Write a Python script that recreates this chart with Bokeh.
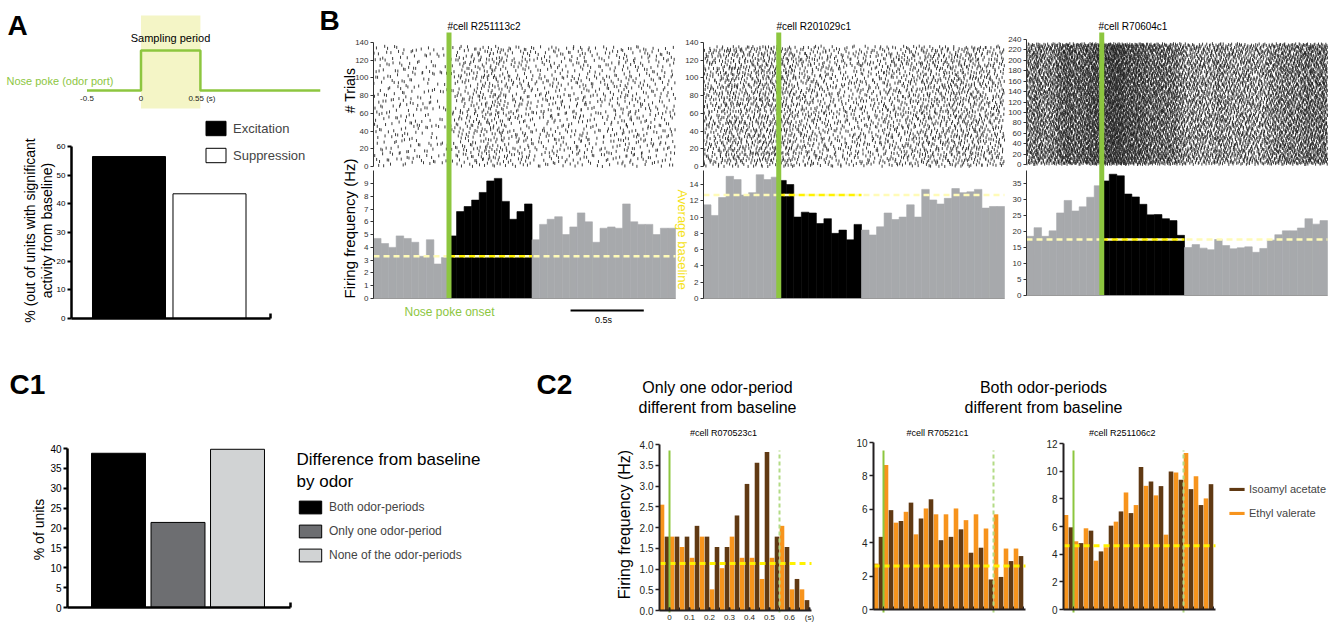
import numpy as np
from bokeh.plotting import figure
from bokeh.models import (Range1d, FixedTicker, LinearAxis, Legend, LegendItem,
                          PrintfTickFormatter)
from bokeh.core.properties import value
from bokeh.embed import file_html
from bokeh.resources import INLINE

FONT = "Liberation Sans"
GREEN = "#8DC63F"
LIGHT_GREEN = "#B3DB86"
YELLOW = "#FFF200"
PALE_YELLOW = "#FFFBB8"
GREY_BAR = "#A7A9AC"
ORANGE = "#F7941D"
BROWN = "#603913"
AXIS = "#231F20"

# ---------------------------------------------------------------- data
# Panel A
a_categories = ["Excitation", "Suppression"]
a_percent = [56.5, 43.5]
a_colors = ["black", "white"]
a_yticks = [0, 10, 20, 30, 40, 50, 60]
sampling_period = [0.0, 0.55]
nose_poke_t = [-0.5, 0.0, 0.55, 1.66]
nose_poke_state = [0, 1, 0, 0]
a_time_ticks = [-0.5, 0.0]
a_time_labels = ["-0.5", "0"]

# Panel B (PSTH, 50 ms bins from -0.5 s)
b_bin = 0.05
b_t0 = -0.5
b_cells = ["#cell R251113c2", "#cell R201029c1", "#cell R70604c1"]
b1_rate = [4.7, 4.3, 4.0, 4.9, 4.7, 4.4, 3.3, 4.6, 2.7, 3.2,
           4.9, 6.8, 7.2, 7.7, 8.3, 9.2, 9.4, 7.6, 6.2, 6.8, 7.4,
           4.6, 5.8, 6.2, 6.4, 5.0, 5.6, 6.7, 6.0, 4.4, 5.5, 5.6, 5.5, 7.4, 6.0,
           5.8, 5.8, 5.0, 5.5, 5.5]
b2_rate = [11.5, 10.2, 12.4, 15.0, 14.6, 12.7, 13.0, 15.2, 14.6, 14.9,
           14.5, 14.0, 10.0, 10.6, 10.5, 9.2, 9.8, 8.0, 8.4, 7.2, 9.1,
           8.4, 7.8, 8.8, 10.5, 9.7, 10.0, 11.5, 10.0, 13.4, 12.1, 11.6, 12.3, 13.5,
           13.0, 13.1, 13.4, 11.1, 11.3, 11.3]
b3_rate = [18.5, 21.2, 18.5, 20.2, 25.8, 29.7, 26.4, 27.7, 30.7, 34.3,
           35.8, 37.9, 37.4, 31.7, 30.8, 28.5, 25.2, 25.3, 24.0, 23.4, 18.8,
           15.0, 15.9, 14.8, 14.3, 17.5, 15.6, 14.6, 14.9, 15.2, 13.5, 14.7, 17.3,
           19.0, 20.2, 20.2, 21.1, 24.0, 22.3, 23.4]
b_rates = [b1_rate, b2_rate, b3_rate]
b_baseline = [3.3, 12.7, 17.5]
b_trials = [136, 136, 232]
b_trial_ticks = [list(range(0, 141, 20)), list(range(0, 141, 20)), list(range(0, 241, 20))]
b_rate_ticks = [list(range(0, 10)), list(range(0, 15, 2)), list(range(0, 36, 5))]
b_scalebar = [0.805, 1.29]

# Panel C1
c1_categories = ["Both odor-periods", "Only one odor-period", "None of the odor-periods"]
c1_percent = [38.8, 21.4, 39.8]
c1_colors = ["#000000", "#6D6E71", "#D1D3D4"]
c1_yticks = list(range(0, 41, 5))

# Panel C2 (50 ms bins from -0.05 s)
c2_bin = 0.05
c2_t0 = -0.05
c2_cells = ["#cell R070523c1", "#cell R70521c1", "#cell  R251106c2"]
c2_series = ["Isoamyl acetate", "Ethyl valerate"]
c2a_isoamyl = [1.78, 1.78, 1.78, 2.04, 1.78, 1.53, 1.53, 2.29, 3.05, 3.56, 3.82, 1.78, 1.53, 0.76, 0.25]
c2a_ethyl = [2.55, 1.78, 1.53, 1.27, 1.78, 0.51, 1.02, 1.78, 1.27, 1.27, 0.76, 1.27, 2.04, 0.51, 0.51]
c2b_isoamyl = [4.35, 5.95, 5.3, 6.4, 5.45, 6.6, 4.15, 4.35, 4.8, 3.4, 3.7, 1.8, 1.95, 2.9, 3.2]
c2b_ethyl = [2.75, 8.65, 5.2, 5.85, 4.5, 6.05, 5.7, 5.7, 6.05, 5.35, 5.7, 4.85, 5.7, 3.65, 3.65]
c2c_isoamyl = [5.94, 4.8, 5.7, 4.2, 6.06, 7.09, 6.97, 10.3, 9.25, 8.92, 9.98, 9.38, 8.7, 7.55, 9.06]
c2c_ethyl = [6.83, 4.93, 5.87, 3.53, 4.5, 6.35, 8.46, 7.55, 8.94, 8.25, 5.41, 9.9, 11.32, 9.64, 8.03]
c2_isoamyl = [c2a_isoamyl, c2b_isoamyl, c2c_isoamyl]
c2_ethyl = [c2a_ethyl, c2b_ethyl, c2c_ethyl]
c2_baseline = [1.13, 2.6, 4.6]
c2_yticks = [[0, 0.5, 1.0, 1.5, 2.0, 2.5, 3.0, 3.5, 4.0], list(range(0, 11, 2)), list(range(0, 13, 2))]
c2_xtick_values = [0, 0.1, 0.2, 0.3, 0.4, 0.5, 0.6, 0.7]
c2_xtick_labels = ["0", "0.1", "0.2", "0.3", "0.4", "0.5", "0.6", "(s)"]

# ---------------------------------------------------------------- canvas & scales
W, H = 1336, 623
XR, YR = {}, {}


def xmap(name, d0, d1, p0, p1):
    s = (d1 - d0) / (p1 - p0)
    XR[name] = Range1d(d0 - s * p0, d1 + s * (W - p1))
    return lambda px: d0 + s * (px - p0)


def ymap(name, d0, d1, py0, py1):
    s = (d1 - d0) / (py0 - py1)
    YR[name] = Range1d(d0 - s * (H - py0), d1 + s * py1)
    return lambda py: d0 + s * (py0 - py)


ax_ta = xmap("ta", 0.0, 1.0, 140.5, 248.5)
ay_sa = ymap("sa", 0.0, 1.0, 90.0, 50.0)
ax_ab = xmap("ab", 1.0, 2.0, 128.5, 209.0)
ay_ab = ymap("ab", 0.0, 60.0, 318.0, 146.0)
b_left = [373, 703, 1026]
b_right = [675, 1004, 1327]
b_raster_px = [(166, 42), (166, 42), (164, 39)]
b_psth_px = [(298, 183, 9), (298, 184, 14), (295, 183, 35)]
bx, bry, bpy = [], [], []
for j in range(3):
    bx.append(xmap("bx%d" % j, -0.5, 1.5, b_left[j], b_right[j]))
    bry.append(ymap("bry%d" % j, 0, b_trial_ticks[j][-1], *b_raster_px[j]))
    py0, py1, top = b_psth_px[j]
    bpy.append(ymap("bpy%d" % j, 0, top, py0, py1))
ax_c1 = xmap("c1", 1.0, 2.0, 118.0, 177.5)
ay_c1 = ymap("c1", 0.0, 40.0, 607.0, 448.0)
c2_left = [659, 873, 1063]
c2_px = [(610, 444, 4), (609, 442, 10), (609, 443, 12)]
cx, cy = [], []
for j in range(3):
    cx.append(xmap("cx%d" % j, -0.05, 0.0, c2_left[j], c2_left[j] + 10))
    py0, py1, top = c2_px[j]
    cy.append(ymap("cy%d" % j, 0, top, py0, py1))

p = figure(width=W, height=H, x_range=Range1d(0, W), y_range=Range1d(H, 0),
           x_axis_location=None, y_axis_location=None, output_backend="svg",
           toolbar_location=None, min_border=0)
p.extra_x_ranges = XR
p.extra_y_ranges = YR
p.grid.visible = False
p.outline_line_color = None
p.background_fill_color = "white"
p.border_fill_color = "white"


def txt(x, y, s, size, color="black", align="left", style="normal", angle=0.0):
    p.text(x=[x], y=[y], text=[s], text_font=value(FONT), text_font_size=size,
           text_color=color, text_align=align, text_baseline="middle",
           text_font_style=style, angle=angle)


def axis(side, xn, yn, loc, ticks, bounds, size="8px", color=AXIS, lw=1.0, tick_out=3,
         tick_in=0, tick_lw=None, minor=None, overrides=None, fmt=None, standoff=2):
    a = LinearAxis(x_range_name=xn, y_range_name=yn, fixed_location=loc, bounds=bounds,
                   ticker=FixedTicker(ticks=ticks, minor_ticks=minor or []))
    a.axis_line_color = color
    a.axis_line_width = lw
    a.major_tick_line_color = color
    a.major_tick_line_width = tick_lw if tick_lw is not None else lw
    a.major_tick_out = tick_out
    a.major_tick_in = tick_in
    if minor:
        a.minor_tick_line_color = color
        a.minor_tick_line_width = 1
        a.minor_tick_in = 3
        a.minor_tick_out = 0
    else:
        a.minor_tick_line_color = None
    a.major_label_text_font = FONT
    a.major_label_text_font_size = size
    a.major_label_text_color = color
    a.major_label_standoff = standoff
    if overrides is not None:
        a.major_label_overrides = overrides
    if fmt is not None:
        a.formatter = fmt
    p.add_layout(a, side)
    return a


def radical_inverse(idx, base):
    idx = np.asarray(idx, dtype=np.int64).copy()
    res = np.zeros(idx.shape)
    f = 1.0 / base
    while np.any(idx > 0):
        res += f * (idx % base)
        idx //= base
        f /= base
    return res


def raster_from_rate(rates, n_trials, seed_offset, leap=409):
    # spike ticks spread over trials with a deterministic leaped Halton sequence,
    # the count in each bin following the read PSTH rate
    ts, ys = [], []
    start = seed_offset
    for i, r in enumerate(rates):
        n = int(round(r * n_trials * b_bin))
        k = start + leap * np.arange(n)
        start += leap * n + 1
        ts.append(b_t0 + (i + radical_inverse(k, 2)) * b_bin)
        ys.append(radical_inverse(k, 3) * n_trials)
    return np.concatenate(ts), np.concatenate(ys)


# ---------------------------------------------------------------- panel A
p.quad(left=[sampling_period[0]], right=[sampling_period[1]], bottom=[ay_sa(108)], top=[ay_sa(15)],
       fill_color="#F4F5C6", line_color=None, x_range_name="ta", y_range_name="sa")
p.step(x=nose_poke_t, y=nose_poke_state, mode="after", line_color=GREEN, line_width=2.5,
       x_range_name="ta", y_range_name="sa")
p.text(x=a_time_ticks, y=[ay_sa(98)] * 2, text=a_time_labels, text_font=value(FONT),
       text_font_size="8px", text_align="center", text_baseline="middle", text_color=AXIS,
       x_range_name="ta", y_range_name="sa")
p.text(x=[sampling_period[1]], y=[ay_sa(98)], text=["0.55 (s)"], text_font=value(FONT),
       text_font_size="8px", text_align="left", text_baseline="middle", x_offset=-12,
       text_color=AXIS, x_range_name="ta", y_range_name="sa")
txt(170, 37, "Sampling period", "11px", align="center")
txt(113, 80, "Nose poke (odor port)", "11px", color=GREEN, align="right")
txt(7, 25, "A", "28px", style="bold")

a_x = np.arange(1, len(a_percent) + 1)
ra = p.vbar(x=a_x, top=a_percent, width=0.907, fill_color=a_colors, line_color="black",
            line_width=1, x_range_name="ab", y_range_name="ab")
axis("left", "ab", "ab", ax_ab(71), a_yticks, (0, 60), size="8px", color="black", lw=2.5,
     tick_out=4, tick_lw=2)
axis("below", "ab", "ab", 0, [ax_ab(270)], (ax_ab(71), ax_ab(270)), color="black", lw=2.5,
     tick_out=0, tick_in=5, overrides={ax_ab(270): ""})
txt(29, 230, "% (out of units with significant", "14px", align="center", angle=np.pi / 2)
txt(46, 230, "activity from baseline)", "14px", align="center", angle=np.pi / 2)
legA = Legend(items=[LegendItem(label=a_categories[i], renderers=[ra], index=i) for i in range(len(a_categories))],
              location=(203, H - 164), glyph_width=25, glyph_height=18, label_height=18, spacing=9,
              padding=0, margin=0, label_standoff=5, label_text_font=FONT, label_text_font_size="13px",
              background_fill_alpha=0, border_line_alpha=0)
p.add_layout(legA)

# ---------------------------------------------------------------- panel B
txt(319, 20, "B", "28px", style="bold")
b_title_x = [447, 776, 1098]
seeds = [1, 7, 13]
for j in range(3):
    xn, rn, pn = "bx%d" % j, "bry%d" % j, "bpy%d" % j
    rates = b_rates[j]
    # raster
    t, tr = raster_from_rate(rates, b_trials[j], seeds[j])
    p.scatter(x=t, y=tr, marker="dash", angle=np.pi / 2, size=3, line_color="#1a1a1a",
              line_width=0.85, x_range_name=xn, y_range_name=rn)
    axis("left", xn, rn, -0.5, b_trial_ticks[j], (0, b_trial_ticks[j][-1]), size="8px",
         color="#333333", lw=1, tick_out=3)
    # psth
    edges = b_t0 + b_bin * np.arange(len(rates) + 1)
    mids = (edges[:-1] + edges[1:]) / 2
    cols = ["black" if sampling_period[0] <= m < sampling_period[1] else GREY_BAR for m in mids]
    p.quad(left=edges[:-1], right=edges[1:], bottom=0, top=rates, fill_color=cols, line_color=cols,
           line_width=0.6, x_range_name=xn, y_range_name=pn)
    p.segment(x0=[edges[0]], x1=[edges[-1]], y0=[b_baseline[j]], y1=[b_baseline[j]],
              line_color=PALE_YELLOW, line_width=2.5, line_dash="6 4", x_range_name=xn, y_range_name=pn)
    p.segment(x0=[sampling_period[0]], x1=[sampling_period[1]], y0=[b_baseline[j]], y1=[b_baseline[j]],
              line_color=YELLOW, line_width=2.5, line_dash="6 4", x_range_name=xn, y_range_name=pn)
    p.segment(x0=[sampling_period[0]], x1=[sampling_period[0]], y0=[bpy[j](32)], y1=[0],
              line_color=GREEN, line_width=5, x_range_name=xn, y_range_name=pn)
    axis("left", xn, pn, -0.5, b_rate_ticks[j], (0, bpy[j](170)), size="8px", color="#333333",
         lw=1, tick_out=3)
    axis("below", xn, pn, 0, [], (edges[0], edges[-1]), color="#9a9a9a", lw=1, tick_out=0)
    txt(b_title_x[j], 26, b_cells[j], "10px")

txt(349, 90, "# Trials", "14px", align="center", angle=np.pi / 2)
txt(349, 228, "Firing frequency (Hz)", "15px", align="center", angle=np.pi / 2)
txt(449, 311, "Nose poke onset", "12px", color=GREEN, align="center")
p.segment(x0=[b_scalebar[0]], x1=[b_scalebar[1]], y0=[bpy[0](310)], y1=[bpy[0](310)],
          line_color="black", line_width=2, x_range_name="bx0", y_range_name="bpy0")
txt(603, 319, "0.5s", "9px", align="center")
txt(682, 239, "Average baseline", "13px", color="#F5E21A", align="center", angle=-np.pi / 2)

# ---------------------------------------------------------------- panel C1
txt(9, 384, "C1", "28px", style="bold")
c1_x = np.arange(1, len(c1_percent) + 1)
rc1 = p.vbar(x=c1_x, top=c1_percent, width=0.907, fill_color=c1_colors, line_color="black",
             line_width=1, x_range_name="c1", y_range_name="c1")
axis("left", "c1", "c1", ax_c1(67), c1_yticks, (0, 40), size="10px", color="black", lw=2.5,
     tick_out=4, tick_lw=2)
axis("below", "c1", "c1", 0, [ax_c1(290)], (ax_c1(67), ax_c1(290)), color="black", lw=2.5,
     tick_out=0, tick_in=5, overrides={ax_c1(290): ""})
txt(38, 529, "% of units", "14px", align="center", angle=np.pi / 2)
txt(296, 459, "Difference from baseline", "17px")
txt(296, 481, "by odor", "17px")
legC1 = Legend(items=[LegendItem(label=c1_categories[i], renderers=[rc1], index=i) for i in range(len(c1_categories))],
               location=(296, H - 563), glyph_width=28, glyph_height=16, label_height=16, spacing=8,
               padding=0, margin=0, label_standoff=5, label_text_font=FONT, label_text_font_size="12px",
               background_fill_alpha=0, border_line_alpha=0)
p.add_layout(legC1)

# ---------------------------------------------------------------- panel C2
txt(536, 384, "C2", "28px", style="bold")
txt(717, 387, "Only one odor-period", "16px", align="center")
txt(717, 407, "different from baseline", "16px", align="center")
txt(1043, 387, "Both odor-periods", "16px", align="center")
txt(1043, 407, "different from baseline", "16px", align="center")
txt(624, 524, "Firing frequency (Hz)", "16px", align="center", angle=np.pi / 2)
c2_title_x = [723, 937, 1123]
c2_renderers = []
for j in range(3):
    xn, yn = "cx%d" % j, "cy%d" % j
    n = len(c2_isoamyl[j])
    edges = c2_t0 + c2_bin * np.arange(n + 1)
    ro = p.vbar(x=edges[:-1] + 0.0125, top=c2_ethyl[j], width=0.023, fill_color=ORANGE,
                line_color=None, x_range_name=xn, y_range_name=yn)
    rb = p.vbar(x=edges[:-1] + 0.0375, top=c2_isoamyl[j], width=0.023, fill_color=BROWN,
                line_color=None, x_range_name=xn, y_range_name=yn)
    c2_renderers = [rb, ro]
    x_end = edges[-1] + 0.01
    p.segment(x0=[c2_t0], x1=[x_end], y0=[c2_baseline[j]], y1=[c2_baseline[j]],
              line_color=YELLOW, line_width=3, line_dash="6 4", x_range_name=xn, y_range_name=yn)
    p.segment(x0=[sampling_period[0]], x1=[sampling_period[0]], y0=[cy[j](612)], y1=[cy[j](450)],
              line_color=GREEN, line_width=2, x_range_name=xn, y_range_name=yn)
    p.segment(x0=[sampling_period[1]], x1=[sampling_period[1]], y0=[cy[j](612)], y1=[cy[j](450)],
              line_color=LIGHT_GREEN, line_width=2, line_dash="4 3", x_range_name=xn, y_range_name=yn)
    axis("left", xn, yn, c2_t0, c2_yticks[j], (0, c2_yticks[j][-1]), size="10px", color=AXIS,
         lw=2, tick_out=4, tick_lw=1.5,
         fmt=PrintfTickFormatter(format="%.1f") if j == 0 else None)
    if j == 0:
        axis("below", xn, yn, 0, c2_xtick_values, (c2_t0, x_end), size="8px", color=AXIS, lw=2,
             tick_out=0, tick_in=3, minor=list(edges),
             overrides=dict(zip(c2_xtick_values, c2_xtick_labels)))
    else:
        axis("below", xn, yn, 0, [], (c2_t0, x_end), color=AXIS, lw=2, tick_out=0, tick_in=3,
             minor=list(edges))
    txt(c2_title_x[j], 432, c2_cells[j], "9px", align="center")

legC2 = Legend(items=[LegendItem(label=c2_series[0], renderers=[c2_renderers[0]]),
                      LegendItem(label=c2_series[1], renderers=[c2_renderers[1]])],
               location=(1227, H - 519), glyph_width=19, glyph_height=4, label_height=4, spacing=12,
               padding=0, margin=0, label_standoff=3, label_text_font=FONT,
               label_text_font_size="11px", background_fill_alpha=0, border_line_alpha=0)
p.add_layout(legC2)

open("out.html", "w").write(file_html(p, INLINE))
